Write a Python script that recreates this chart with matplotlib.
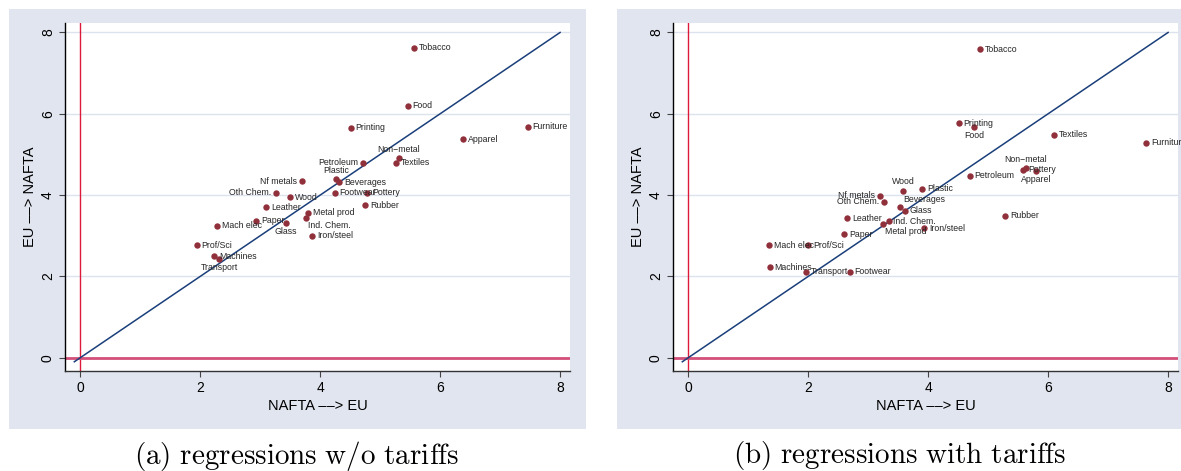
import matplotlib
matplotlib.use("Agg")
import matplotlib.pyplot as plt
from matplotlib.patches import Rectangle

plt.rcParams['font.family'] = ['Liberation Sans', 'DejaVu Sans']
plt.rcParams['mathtext.fontset'] = 'cm'

# sectors, same order in both panels
sectors = ['Tobacco', 'Food', 'Printing', 'Furniture', 'Apparel', 'Non\u2212metal',
           'Textiles', 'Petroleum', 'Plastic', 'Beverages', 'Nf metals', 'Oth Chem.',
           'Wood', 'Footwear', 'Pottery', 'Rubber', 'Leather', 'Metal prod',
           'Ind. Chem.', 'Paper', 'Glass', 'Mach elec', 'Iron/steel', 'Prof/Sci',
           'Machines', 'Transport']

# (a) regressions w/o tariffs
x_a = [5.56, 5.46, 4.51, 7.46, 6.38, 5.31, 5.27, 4.71, 4.26, 4.32, 3.69, 3.26, 3.50,
       4.24, 4.78, 4.75, 3.10, 3.80, 3.76, 2.93, 3.43, 2.28, 3.87, 1.94, 2.23, 2.32]
y_a = [7.62, 6.20, 5.66, 5.68, 5.37, 4.90, 4.80, 4.80, 4.39, 4.32, 4.34, 4.06, 3.95,
       4.06, 4.06, 3.75, 3.70, 3.57, 3.44, 3.37, 3.32, 3.25, 3.00, 2.77, 2.50, 2.43]

# (b) regressions with tariffs
x_b = [4.87, 4.77, 4.51, 7.63, 5.80, 5.63, 6.09, 4.69, 3.90, 3.53, 3.19, 3.26, 3.58,
       2.69, 5.58, 5.28, 2.65, 3.24, 3.34, 2.60, 3.61, 1.34, 3.93, 2.00, 1.36, 1.96]
y_b = [7.59, 5.67, 5.77, 5.29, 4.60, 4.67, 5.48, 4.48, 4.16, 3.70, 3.98, 3.84, 4.11,
       2.11, 4.62, 3.49, 3.43, 3.30, 3.35, 3.04, 3.61, 2.77, 3.18, 2.77, 2.23, 2.12]

ticks = [0, 2, 4, 6, 8]
captions = ['(a) regressions w/o tariffs', '(b) regressions with tariffs']

# label clock positions (stata style), default is 3 o'clock
pos_a = {'Non\u2212metal': 12, 'Petroleum': 9, 'Plastic': 12, 'Nf metals': 9,
         'Oth Chem.': 9, 'Ind. Chem.': 5, 'Glass': 6, 'Transport': 6}
pos_b = {'Food': 6, 'Non\u2212metal': 12, 'Apparel': 6, 'Wood': 12, 'Nf metals': 9,
         'Oth Chem.': 9, 'Beverages': 1, 'Metal prod': 5}

clock = {3: ((3.5, 0), 'left', 'center'),
         9: ((-3.5, 0), 'right', 'center'),
         12: ((0, 3), 'center', 'bottom'),
         6: ((0, -3), 'center', 'top'),
         5: ((1.5, -2.5), 'left', 'top'),
         1: ((2, 2), 'left', 'bottom')}

W, H = 1181, 471
fig = plt.figure(figsize=(W / 100, H / 100), dpi=100)

bg = '#E1E5EF'
fig.patches.append(Rectangle((9 / W, 1 - 429 / H), 577 / W, 420 / H,
                             transform=fig.transFigure, facecolor=bg, edgecolor='none', zorder=-5))
fig.patches.append(Rectangle((617 / W, 1 - 429 / H), 600 / W, 420 / H,
                             transform=fig.transFigure, facecolor=bg, edgecolor='none', zorder=-5))

panels = [(65.3, x_a, y_a, pos_a, 297), (673.3, x_b, y_b, pos_b, 900)]
for i, (left, xs, ys, pos, cx) in enumerate(panels):
    ax = fig.add_axes([left / W, (H - 370.7) / H, 505 / W, 348 / H])
    ax.set_facecolor('white')
    ax.set_xlim(-0.25, 8.17)
    ax.set_ylim(-0.32, 8.24)
    for s in ['top', 'right']:
        ax.spines[s].set_visible(False)
    ax.spines['left'].set_color('black')
    ax.spines['bottom'].set_color('#333333')
    ax.spines['left'].set_linewidth(1.0)
    ax.spines['bottom'].set_linewidth(1.0)
    ax.set_xticks(ticks)
    ax.set_yticks(ticks)
    ax.tick_params(direction='out', length=4.5, width=0.8, color='#444444', labelsize=10, pad=3)
    for lab in ax.get_yticklabels():
        lab.set_rotation(90)
        lab.set_va('center')
    ax.grid(axis='y', color='#DCE3EE', linewidth=1.0)
    ax.set_axisbelow(True)

    ax.axvline(0, color='#DC1A3A', lw=1.0, zorder=2)
    ax.axhline(0, color='#D4507A', lw=2.0, zorder=2)
    ax.plot([-0.1, 8], [-0.1, 8], color='#1A3F7A', lw=1.1, zorder=3)
    ax.plot(xs, ys, 'o', color='#90303B', ms=4.6, mec='none', zorder=4)

    for name, xv, yv in zip(sectors, xs, ys):
        (dx, dy), ha, va = clock[pos.get(name, 3)]
        ax.annotate(name, (xv, yv), xytext=(dx, dy), textcoords='offset points',
                    ha=ha, va=va, fontsize=6.3, color='#262626', zorder=5,
                    annotation_clip=False)

    ax.set_xlabel('NAFTA \u2013\u2013> EU', fontsize=10.5, labelpad=3)
    ax.set_ylabel('EU \u2013\u2013> NAFTA', fontsize=10.5, labelpad=3)

    txt = captions[i].replace(' ', r'\ ')
    fig.text(cx / W, 1 - 456 / H, r'$\mathrm{' + txt + '}$', ha='center', va='center', fontsize=21)

fig.savefig('out.png', dpi=100)
